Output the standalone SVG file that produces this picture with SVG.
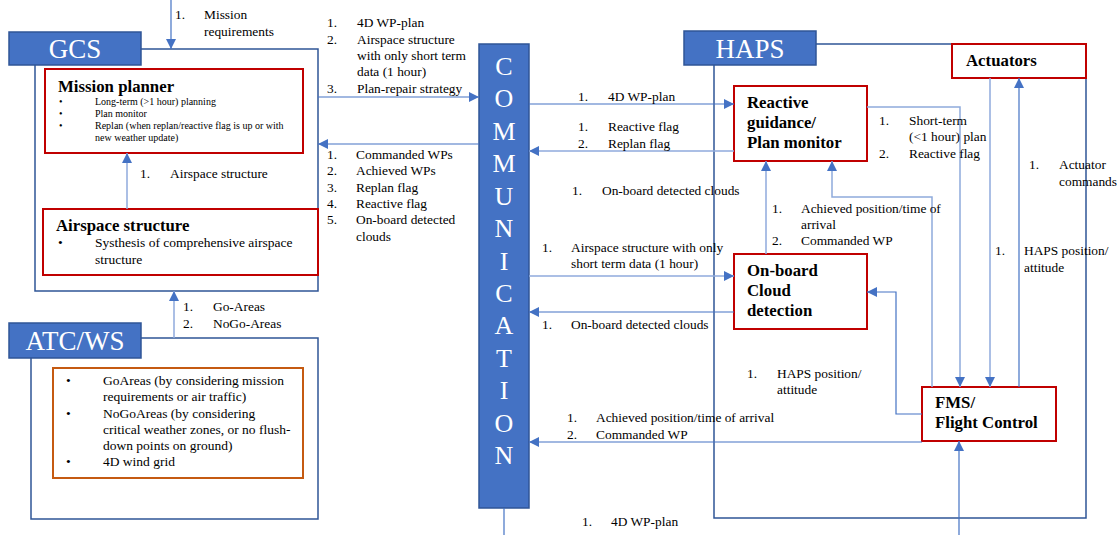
<svg xmlns="http://www.w3.org/2000/svg" width="1117" height="535" viewBox="0 0 1117 535" font-family="'Liberation Serif', 'DejaVu Serif', serif">
  <style>
    text { font-family: "Liberation Serif", "DejaVu Serif", serif; fill: #000; }
    .t { font-size: 13.4px; }
    .s { font-size: 10px; }
    .b { font-size: 13.5px; }
    .h { font-size: 16.8px; font-weight: bold; }
    .hn { font-size: 16.8px; font-weight: bold; }
    .tag { fill: #4472c4; stroke: #2f5597; stroke-width: 1.5; }
    .tagtxt { font-size: 27px; fill: #fff; }
    .frame { fill: none; stroke: #2f5597; stroke-width: 1.5; }
    .mod { fill: #fff; stroke: #c00000; stroke-width: 2; }
    .org { fill: #fff; stroke: #c55a11; stroke-width: 2; }
    .c { fill: none; stroke: #4472c4; stroke-width: 1.2; }
    .cl { fill: none; stroke: #8faadc; stroke-width: 1.5; }
    .comm { font-size: 26px; fill: #fff; text-anchor: middle; }
  </style>
  <defs>
    <marker id="arr" viewBox="0 0 10 10" refX="10" refY="5" markerWidth="10" markerHeight="10" markerUnits="userSpaceOnUse" orient="auto">
      <path d="M0,0 L10,5 L0,10 Z" fill="#4472c4"/>
    </marker>
  </defs>
  <rect width="1117" height="535" fill="#fff"/>

  <!-- Ground control station -->
  <g id="gcs">
    <path class="frame" d="M141,49 H318 V291 H35 V65"/>
    <rect class="tag" x="9" y="32" width="132" height="33"/>
    <text class="tagtxt" x="75" y="58" text-anchor="middle">GCS</text>
  </g>
  <g id="mission-planner">
    <rect class="mod" x="45" y="69" width="258" height="84"/>
    <text class="h" x="58" y="92">Mission planner</text>
    <text class="s" x="59" y="105">•</text><text class="s" x="95" y="105">Long-term (&gt;1 hour) planning</text>
    <text class="s" x="59" y="117">•</text><text class="s" x="95" y="117">Plan monitor</text>
    <text class="s" x="59" y="129">•</text><text class="s" x="95" y="129">Replan (when replan/reactive flag is up or with</text>
    <text class="s" x="95" y="141">new weather update)</text>
  </g>
  <g id="airspace-structure">
    <rect class="mod" x="43" y="209" width="275" height="66"/>
    <text class="h" x="56" y="231">Airspace structure</text>
    <text class="b" x="58" y="247">•</text><text class="b" x="95" y="247">Systhesis of comprehensive airspace</text>
    <text class="b" x="95" y="264">structure</text>
  </g>

  <!-- Air traffic control / weather service -->
  <g id="atc-ws">
    <path class="frame" d="M141,338 H318 V519 H31 V358"/>
    <rect class="tag" x="9" y="323" width="132" height="35"/>
    <text class="tagtxt" x="75" y="350" text-anchor="middle">ATC/WS</text>
    <rect class="org" x="53" y="368" width="250" height="110"/>
    <text class="b" x="66" y="385">•</text><text class="b" x="103" y="385">GoAreas (by considering mission</text>
    <text class="b" x="103" y="401">requirements or air traffic)</text>
    <text class="b" x="66" y="418">•</text><text class="b" x="103" y="418">NoGoAreas (by considering</text>
    <text class="b" x="103" y="434">critical weather zones, or no flush-</text>
    <text class="b" x="103" y="450">down points on ground)</text>
    <text class="b" x="66" y="466">•</text><text class="b" x="103" y="466">4D wind grid</text>
  </g>

  <!-- Communication link -->
  <g id="communication">
    <rect class="tag" x="479" y="44" width="50" height="464"/>
    <text class="comm" x="504" y="75">C</text>
    <text class="comm" x="504" y="107">O</text>
    <text class="comm" x="504" y="140">M</text>
    <text class="comm" x="504" y="172">M</text>
    <text class="comm" x="504" y="205">U</text>
    <text class="comm" x="504" y="237">N</text>
    <text class="comm" x="504" y="270">I</text>
    <text class="comm" x="504" y="302">C</text>
    <text class="comm" x="504" y="334">A</text>
    <text class="comm" x="504" y="367">T</text>
    <text class="comm" x="504" y="399">I</text>
    <text class="comm" x="504" y="432">O</text>
    <text class="comm" x="504" y="464">N</text>
  </g>

  <!-- HAPS platform -->
  <g id="haps">
    <path class="frame" d="M816,44 H1086 V518 H714 V65"/>
    <rect class="tag" x="684" y="31" width="132" height="34"/>
    <text class="tagtxt" x="750" y="58" text-anchor="middle">HAPS</text>
  </g>
  <g id="actuators">
    <rect class="mod" x="952" y="44" width="134" height="34"/>
    <text class="hn" x="966" y="66">Actuators</text>
  </g>
  <g id="reactive-guidance">
    <rect class="mod" x="734" y="86" width="133" height="75"/>
    <text class="hn" x="747" y="108">Reactive</text>
    <text class="hn" x="747" y="128">guidance/</text>
    <text class="hn" x="747" y="148">Plan monitor</text>
  </g>
  <g id="cloud-detection">
    <rect class="mod" x="734" y="254" width="133" height="75"/>
    <text class="hn" x="747" y="276">On-board</text>
    <text class="hn" x="747" y="296">Cloud</text>
    <text class="hn" x="747" y="316">detection</text>
  </g>
  <g id="flight-control">
    <rect class="mod" x="922" y="387" width="134" height="54"/>
    <text class="hn" x="935" y="408">FMS/</text>
    <text class="hn" x="935" y="428">Flight Control</text>
  </g>

  <!-- Connectors -->
  <g id="connectors">
    <path class="c" d="M171,0 V49" marker-end="url(#arr)"/>
    <path class="cl" d="M127,209 V153" marker-end="url(#arr)"/>
    <path class="cl" d="M174,338 V291" marker-end="url(#arr)"/>
    <path class="c" d="M318,97 H479" marker-end="url(#arr)"/>
    <path class="c" d="M479,144 H318" marker-end="url(#arr)"/>
    <path class="c" d="M529,104 H734" marker-end="url(#arr)"/>
    <path class="cl" d="M734,151 H529" marker-end="url(#arr)"/>
    <path class="cl" d="M529,276 H734" marker-end="url(#arr)"/>
    <path class="c" d="M734,312 H529" marker-end="url(#arr)"/>
    <path class="c" d="M922,442 H529" marker-end="url(#arr)"/>
    <path class="c" d="M504,508 V535"/>
    <path class="cl" d="M867,107 H960 V387" marker-end="url(#arr)"/>
    <path class="cl" d="M990,78 V387" marker-end="url(#arr)"/>
    <path class="c" d="M1019,387 V78" marker-end="url(#arr)"/>
    <path class="cl" d="M766,254 V161" marker-end="url(#arr)"/>
    <path class="cl" d="M932,387 V197 H832 V161" marker-end="url(#arr)"/>
    <path class="c" d="M922,414 H896 V292 H867" marker-end="url(#arr)"/>
    <path class="c" d="M959,535 V441" marker-end="url(#arr)"/>
  </g>

  <!-- Connector labels -->
  <g id="labels">
    <text class="t" x="175" y="19">1.</text><text class="t" x="204" y="19">Mission</text>
    <text class="t" x="204" y="36">requirements</text>
    <text class="t" x="140" y="178">1.</text><text class="t" x="170" y="178">Airspace structure</text>
    <text class="t" x="183" y="311">1.</text><text class="t" x="213" y="311">Go-Areas</text>
    <text class="t" x="183" y="328">2.</text><text class="t" x="213" y="328">NoGo-Areas</text>

    <text class="t" x="327" y="27">1.</text><text class="t" x="357" y="27">4D WP-plan</text>
    <text class="t" x="327" y="44">2.</text><text class="t" x="357" y="44">Airspace structure</text>
    <text class="t" x="357" y="60">with only short term</text>
    <text class="t" x="357" y="76">data (1 hour)</text>
    <text class="t" x="327" y="93">3.</text><text class="t" x="357" y="93">Plan-repair strategy</text>

    <text class="t" x="327" y="159">1.</text><text class="t" x="356" y="159">Commanded WPs</text>
    <text class="t" x="327" y="175">2.</text><text class="t" x="356" y="175">Achieved WPs</text>
    <text class="t" x="327" y="192">3.</text><text class="t" x="356" y="192">Replan flag</text>
    <text class="t" x="327" y="208">4.</text><text class="t" x="356" y="208">Reactive flag</text>
    <text class="t" x="327" y="224">5.</text><text class="t" x="356" y="224">On-board detected</text>
    <text class="t" x="356" y="241">clouds</text>

    <text class="t" x="578" y="101">1.</text><text class="t" x="608" y="101">4D WP-plan</text>
    <text class="t" x="578" y="131">1.</text><text class="t" x="608" y="131">Reactive flag</text>
    <text class="t" x="578" y="148">2.</text><text class="t" x="608" y="148">Replan flag</text>
    <text class="t" x="572" y="195">1.</text><text class="t" x="602" y="195">On-board detected clouds</text>
    <text class="t" x="542" y="252">1.</text><text class="t" x="571" y="252">Airspace structure with only</text>
    <text class="t" x="571" y="268">short term data (1 hour)</text>
    <text class="t" x="542" y="329">1.</text><text class="t" x="571" y="329">On-board detected clouds</text>
    <text class="t" x="567" y="422">1.</text><text class="t" x="596" y="422">Achieved position/time of arrival</text>
    <text class="t" x="567" y="439">2.</text><text class="t" x="596" y="439">Commanded WP</text>
    <text class="t" x="582" y="526">1.</text><text class="t" x="611" y="526">4D WP-plan</text>

    <text class="t" x="879" y="125">1.</text><text class="t" x="909" y="125">Short-term</text>
    <text class="t" x="909" y="141">(&lt;1 hour) plan</text>
    <text class="t" x="879" y="158">2.</text><text class="t" x="909" y="158">Reactive flag</text>
    <text class="t" x="1029" y="169">1.</text><text class="t" x="1059" y="169">Actuator</text>
    <text class="t" x="1059" y="186">commands</text>
    <text class="t" x="772" y="213">1.</text><text class="t" x="801" y="213">Achieved position/time of</text>
    <text class="t" x="801" y="229">arrival</text>
    <text class="t" x="772" y="245">2.</text><text class="t" x="801" y="245">Commanded WP</text>
    <text class="t" x="995" y="255">1.</text><text class="t" x="1024" y="255">HAPS position/</text>
    <text class="t" x="1024" y="272">attitude</text>
    <text class="t" x="747" y="378">1.</text><text class="t" x="777" y="378">HAPS position/</text>
    <text class="t" x="777" y="394">attitude</text>
  </g>
</svg>
